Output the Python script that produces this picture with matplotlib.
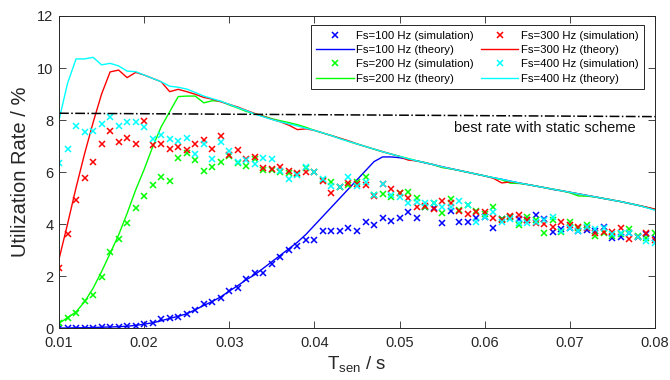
import numpy as np
import matplotlib.pyplot as plt

plt.rcParams['font.family'] = ['Liberation Sans', 'DejaVu Sans']
plt.rcParams['mathtext.fontset'] = 'custom'
plt.rcParams['mathtext.rm'] = 'Liberation Sans'

# sensing period grid, 1 ms steps
t_sen = np.round(np.linspace(0.010, 0.080, 71), 3)

# simulated utilization rate (%)
sim_100 = [0.0, 0.0, 0.0, 0.01, 0.01, 0.02, 0.03, 0.04, 0.06, 0.08,
           0.15, 0.2, 0.33, 0.4, 0.42, 0.53, 0.69, 0.92, 1.01, 1.14,
           1.44, 1.55, 1.87, 2.13, 2.1, 2.45, 2.72, 3.0, 3.15, 3.38,
           3.38, 3.73, 3.75, 3.75, 3.86, 3.73, 4.09, 3.96, 4.24, 4.12,
           4.22, 4.47, 4.24, 4.67, 4.6, 4.03, 4.5, 4.09, 4.09, 4.22,
           4.27, 3.86, 4.18, 4.27, 4.18, 4.15, 4.33, 4.18, 3.71, 3.8,
           3.85, 3.74, 3.77, 3.72, 3.87, 3.45, 3.49, 3.64, 3.49, 3.6,
           3.45]
sim_200 = [0.2, 0.4, 0.59, 1.04, 1.27, 1.97, 2.91, 3.41, 4.03, 4.63,
           5.08, 5.5, 5.79, 5.67, 6.53, 6.74, 6.46, 6.05, 6.21, 6.37,
           6.62, 6.36, 6.23, 6.5, 6.08, 6.08, 5.99, 5.97, 5.91, 6.17,
           5.99, 5.69, 5.63, 5.41, 5.5, 5.6, 5.8, 5.1, 5.15, 5.03,
           5.2, 5.22, 5.01, 4.67, 4.8, 4.44, 4.95, 4.54, 4.73, 4.5,
           4.4, 4.67, 4.2, 4.28, 3.96, 4.28, 4.15, 3.64, 4.15, 3.7,
           4.09, 3.83, 3.96, 3.54, 3.64, 3.54, 3.6, 3.8, 3.54, 3.45,
           3.64]
sim_300 = [2.32, 3.6, 4.92, 5.76, 6.4, 7.07, 7.59, 7.14, 7.32, 7.08,
           7.97, 7.04, 7.08, 6.88, 6.97, 6.85, 7.08, 7.22, 6.89, 7.4,
           6.64, 6.85, 6.5, 6.59, 6.17, 6.12, 6.2, 6.04, 5.97, 5.99,
           5.99, 5.67, 5.18, 5.41, 5.59, 5.54, 5.5, 5.08, 5.53, 5.35,
           5.2, 5.0, 4.64, 4.69, 4.56, 4.9, 4.79, 4.51, 4.38, 4.47,
           4.47, 4.25, 4.15, 4.3, 4.35, 4.15, 4.03, 4.0, 3.9, 4.09,
           3.95, 3.87, 3.86, 3.64, 3.7, 3.7, 3.83, 3.41, 3.51, 3.64,
           3.38]
sim_400 = [6.33, 6.87, 7.78, 7.55, 7.56, 7.85, 8.1, 7.78, 7.91, 7.94,
           7.72, 7.27, 7.42, 7.26, 7.2, 7.3, 6.68, 7.07, 6.5, 7.17,
           6.82, 6.4, 6.46, 6.29, 6.55, 6.5, 6.04, 5.72, 5.88, 6.2,
           6.0, 5.72, 5.47, 5.41, 5.82, 5.46, 5.6, 5.12, 5.55, 5.12,
           5.05, 4.82, 4.85, 4.8, 4.82, 4.67, 4.67, 4.87, 4.73, 4.09,
           4.28, 4.47, 4.09, 4.2, 4.03, 4.03, 4.09, 4.15, 4.28, 3.75,
           3.83, 3.75, 3.88, 3.8, 3.83, 3.6, 3.64, 3.67, 3.51, 3.33,
           3.26]

# theoretical utilization rate (%)
th_100 = [0.0, 0.0, 0.01, 0.01, 0.02, 0.03, 0.04, 0.05, 0.07, 0.1,
          0.15, 0.2, 0.28, 0.37, 0.45, 0.55, 0.7, 0.87, 1.02, 1.2,
          1.42, 1.63, 1.86, 2.05, 2.3, 2.55, 2.8, 3.05, 3.3, 3.6,
          3.95, 4.3, 4.65, 5.0, 5.35, 5.7, 6.05, 6.4, 6.58, 6.58,
          6.55, 6.49, 6.43, 6.35, 6.28, 6.2, 6.13, 6.06, 5.99, 5.92,
          5.85, 5.78, 5.72, 5.65, 5.58, 5.52, 5.46, 5.4, 5.33, 5.28,
          5.22, 5.16, 5.1, 5.04, 4.98, 4.92, 4.86, 4.79, 4.72, 4.64,
          4.56]
th_200 = [0.18, 0.4, 0.62, 1.01, 1.53, 2.17, 2.87, 3.58, 4.41, 5.31,
          6.1, 6.97, 7.74, 8.32, 8.9, 8.92, 8.92, 8.66, 8.74, 8.72,
          8.58, 8.46, 8.33, 8.24, 8.15, 8.05, 7.97, 7.9, 7.82, 7.72,
          7.6, 7.5, 7.4, 7.29, 7.18, 7.08, 6.98, 6.88, 6.78, 6.69,
          6.6, 6.52, 6.43, 6.36, 6.28, 6.17, 6.12, 6.06, 5.99, 5.92,
          5.85, 5.78, 5.7, 5.57, 5.56, 5.52, 5.46, 5.4, 5.34, 5.28,
          5.2, 5.08, 5.07, 5.04, 4.98, 4.92, 4.86, 4.79, 4.72, 4.64,
          4.56]
th_300 = [2.65, 4.0, 5.4, 6.7, 7.9, 9.0, 9.85, 9.92, 9.63, 9.83,
          9.73, 9.6, 9.47, 9.09, 9.18, 9.09, 8.99, 8.87, 8.8, 8.7,
          8.6, 8.5, 8.37, 8.25, 8.14, 8.03, 7.93, 7.8, 7.63, 7.66,
          7.6, 7.5, 7.4, 7.3, 7.2, 7.08, 6.98, 6.88, 6.78, 6.69,
          6.6, 6.46, 6.43, 6.36, 6.28, 6.2, 6.13, 6.06, 5.99, 5.92,
          5.85, 5.76, 5.58, 5.62, 5.58, 5.52, 5.46, 5.4, 5.34, 5.28,
          5.22, 5.16, 5.1, 5.04, 4.98, 4.92, 4.86, 4.79, 4.72, 4.65,
          4.57]
th_400 = [8.0, 9.41, 10.35, 10.35, 10.41, 10.12, 10.18, 10.08, 9.88, 9.86,
          9.73, 9.6, 9.47, 9.3, 9.26, 9.19, 9.06, 8.92, 8.82, 8.72,
          8.6, 8.48, 8.36, 8.23, 8.12, 8.02, 7.93, 7.85, 7.77, 7.68,
          7.6, 7.5, 7.4, 7.28, 7.18, 7.08, 6.98, 6.88, 6.78, 6.69,
          6.6, 6.51, 6.43, 6.36, 6.28, 6.2, 6.13, 6.06, 5.99, 5.92,
          5.85, 5.78, 5.72, 5.65, 5.58, 5.52, 5.46, 5.4, 5.34, 5.28,
          5.22, 5.16, 5.1, 5.04, 4.98, 4.92, 4.86, 4.79, 4.72, 4.63,
          4.53]

# best rate reachable with the static scheme
static_x = [0.010, 0.080]
static_y = [8.26, 8.13]

series = [
    ('Fs=100 Hz', sim_100, th_100, (0, 0, 1)),
    ('Fs=200 Hz', sim_200, th_200, (0, 1, 0)),
    ('Fs=300 Hz', sim_300, th_300, (1, 0, 0)),
    ('Fs=400 Hz', sim_400, th_400, (0, 1, 1)),
]

fig = plt.figure(figsize=(6.7, 3.8), dpi=100)
ax = fig.add_axes([0.0881, 0.1368, 0.8895, 0.8211])

handles = []
for name, sim, th, col in series:
    h1, = ax.plot(t_sen, sim, 'x', color=col, markersize=5, mew=1.1,
                  label=name + ' (simulation)')
    h2, = ax.plot(t_sen, th, '-', color=col, lw=1.0,
                  label=name + ' (theory)')
    handles += [h1, h2]

ax.plot(static_x, static_y, '-.', color='black', lw=1.1)
ax.text(0.0777, 7.69, 'best rate with static scheme', ha='right',
        va='center', fontsize=10.5, color='#111111')

ax.set_xlim(0.01, 0.08)
ax.set_ylim(0, 12)
ax.set_xticks(np.arange(0.01, 0.0801, 0.01))
ax.set_xticklabels(['0.01', '0.02', '0.03', '0.04', '0.05', '0.06',
                    '0.07', '0.08'])
ax.set_yticks(range(0, 13, 2))

ax.tick_params(direction='in', top=True, right=True, length=5, width=0.6,
               color='#262626', labelcolor='#262626', labelsize=10.5)
ax.tick_params(axis='x', pad=6)
ax.tick_params(axis='y', pad=4)
for sp in ax.spines.values():
    sp.set_color('#262626')
    sp.set_linewidth(0.7)

ax.set_xlabel('T$_{\\mathregular{sen}}$ / s', fontsize=13.5, color='#262626',
              labelpad=3)
ax.set_ylabel('Utilization Rate / %', fontsize=14.5, color='#262626',
              labelpad=5)

leg = ax.legend(handles=handles, ncol=2, loc='upper right',
                bbox_to_anchor=(0.9815, 0.971), borderaxespad=0,
                fontsize=8.2, numpoints=1, handlelength=3.3,
                handletextpad=0.2, columnspacing=0.6, labelspacing=0.38,
                borderpad=0.5, fancybox=False, framealpha=1,
                edgecolor='#262626')
leg.get_frame().set_linewidth(0.7)

fig.savefig('out.png', dpi=100)
